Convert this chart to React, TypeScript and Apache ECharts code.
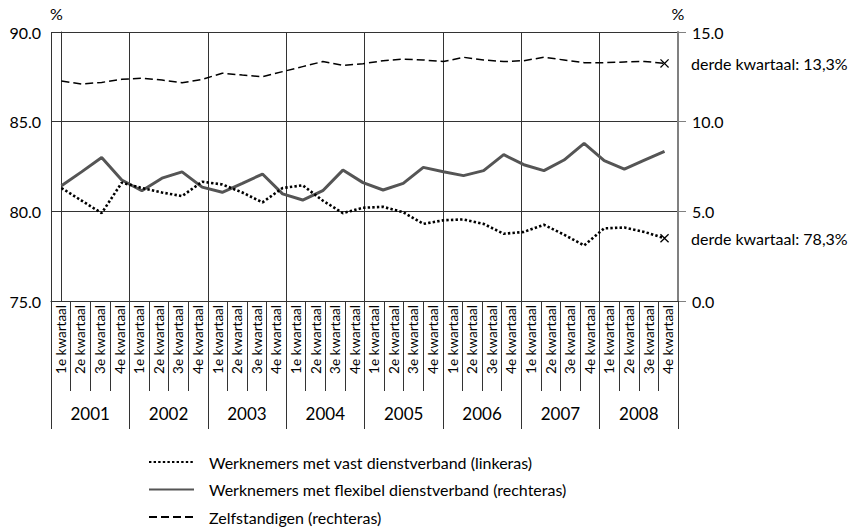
import React, { useEffect, useRef } from "react";
import * as echarts from "echarts";

const years = ["2001", "2002", "2003", "2004", "2005", "2006", "2007", "2008"];
const quarterNames = ["1e kwartaal", "2e kwartaal", "3e kwartaal", "4e kwartaal"];
const quarterLabels = years.flatMap(() => quarterNames);

// Werknemers met vast dienstverband (linkeras), 2001 Q1 .. 2008 Q3
const vast = [
  81.3, 80.6, 79.9, 81.6, 81.3, 81.05, 80.85, 81.65, 81.5, 81.05, 80.5, 81.3,
  81.45, 80.6, 79.9, 80.2, 80.25, 79.95, 79.3, 79.5, 79.55, 79.3, 78.75, 78.85,
  79.25, 78.7, 78.1, 79.05, 79.1, 78.85, 78.5,
];
// Werknemers met flexibel dienstverband (rechteras)
const flex = [
  6.43, 7.2, 8.0, 6.75, 6.15, 6.85, 7.2, 6.35, 6.06, 6.56, 7.08, 5.97, 5.63,
  6.15, 7.3, 6.6, 6.19, 6.56, 7.45, 7.21, 6.99, 7.27, 8.16, 7.6, 7.27, 7.86,
  8.79, 7.83, 7.35, 7.85, 8.35,
];
// Zelfstandigen (rechteras)
const zelf = [
  12.27, 12.1, 12.19, 12.36, 12.42, 12.32, 12.17, 12.36, 12.7, 12.6, 12.51,
  12.79, 13.07, 13.35, 13.14, 13.23, 13.4, 13.49, 13.44, 13.35, 13.59, 13.44,
  13.35, 13.4, 13.59, 13.44, 13.29, 13.29, 13.33, 13.36, 13.25,
];

const seriesNames = [
  "Werknemers met vast dienstverband (linkeras)",
  "Werknemers met flexibel dienstverband (rechteras)",
  "Zelfstandigen (rechteras)",
];
const endLabels = ["derde kwartaal: 78,3%", "derde kwartaal: 13,3%"];

const FONT = "Lato";
const CROSS =
  "path://M0,1 L1,0 L5,4 L9,0 L10,1 L6,5 L10,9 L9,10 L5,6 L1,10 L0,9 L4,5 Z";

function toData(values: number[], endLabel?: string) {
  return values.map((v, i) => {
    if (i === values.length - 1 && endLabel) {
      return {
        value: [i, v],
        symbol: CROSS,
        symbolSize: 9,
        itemStyle: { color: "#000", opacity: 1 },
        label: {
          show: true,
          position: "right",
          distance: 22,
          formatter: endLabel,
          fontFamily: FONT,
          fontSize: 16,
          color: "#000",
        },
      };
    }
    return [i, v];
  });
}

export default function App() {
  const ref = useRef<HTMLDivElement>(null);

  useEffect(() => {
    if (!ref.current) return;
    const chart = echarts.init(ref.current, undefined, { renderer: "svg" });
    const axisColor = "#333";
    chart.setOption({
      animation: false,
      textStyle: { fontFamily: FONT, color: "#000" },
      grid: { left: 51, top: 32, width: 627, height: 269, containLabel: false },
      legend: {
        orient: "vertical",
        left: 148,
        top: 454,
        padding: 0,
        itemWidth: 45,
        itemHeight: 14,
        itemGap: 11.5,
        itemStyle: { opacity: 0 },
        textStyle: {
          fontFamily: FONT,
          fontSize: 16,
          color: "#000",
          padding: [0, 0, 0, 10],
        },
        data: seriesNames,
      },
      xAxis: [
        {
          type: "category",
          position: "bottom",
          data: quarterLabels,
          boundaryGap: true,
          axisLine: { show: true, lineStyle: { color: axisColor, width: 1 } },
          axisTick: {
            show: true,
            interval: 0,
            length: 90,
            lineStyle: { color: axisColor, width: 1 },
          },
          axisLabel: {
            interval: 0,
            rotate: 90,
            margin: 4,
            fontFamily: FONT,
            fontSize: 13.5,
            color: "#000",
          },
          splitLine: { show: false },
        },
        {
          type: "category",
          position: "bottom",
          data: years,
          boundaryGap: true,
          axisLine: { show: false },
          axisTick: {
            show: true,
            interval: 0,
            length: 128,
            lineStyle: { color: axisColor, width: 1 },
          },
          axisLabel: {
            interval: 0,
            margin: 104,
            fontFamily: FONT,
            fontSize: 17,
            color: "#000",
          },
          splitLine: {
            show: true,
            interval: 0,
            lineStyle: { color: axisColor, width: 1 },
          },
        },
        {
          type: "value",
          position: "top",
          show: false,
          min: -0.52,
          max: 30.67,
          splitLine: { show: false },
        },
      ],
      yAxis: [
        {
          type: "value",
          position: "left",
          min: 75,
          max: 90,
          interval: 5,
          name: "%",
          nameLocation: "end",
          nameGap: 11,
          nameTextStyle: {
            fontFamily: FONT,
            fontSize: 16,
            color: "#000",
            align: "center",
            padding: [0, 10, 0, 0],
          },
          axisLine: { show: true, lineStyle: { color: axisColor, width: 1 } },
          axisTick: { show: true, length: 4, lineStyle: { color: axisColor } },
          axisLabel: {
            margin: 10,
            fontFamily: FONT,
            fontSize: 16,
            color: "#000",
            formatter: (v: number) => v.toFixed(1),
          },
          splitLine: { show: true, lineStyle: { color: axisColor, width: 1 } },
        },
        {
          type: "value",
          position: "right",
          min: 0,
          max: 15,
          interval: 5,
          name: "%",
          nameLocation: "end",
          nameGap: 11,
          nameTextStyle: { fontFamily: FONT, fontSize: 16, color: "#000" },
          axisLine: { show: true, lineStyle: { color: "#808080", width: 2 } },
          axisTick: { show: true, length: 8, lineStyle: { color: "#808080", width: 1 } },
          axisLabel: {
            margin: 14,
            fontFamily: FONT,
            fontSize: 16,
            color: "#000",
            formatter: (v: number) => v.toFixed(1),
          },
          splitLine: { show: false },
        },
      ],
      series: [
        {
          name: seriesNames[0],
          type: "line",
          xAxisIndex: 2,
          yAxisIndex: 0,
          symbol: "none",
          showSymbol: true,
          lineStyle: { color: "#000", width: 2.6, type: [2.4, 2.2] },
          itemStyle: { color: "#000" },
          data: toData(vast, endLabels[0]),
          z: 4,
        },
        {
          name: seriesNames[1],
          type: "line",
          xAxisIndex: 2,
          yAxisIndex: 1,
          symbol: "none",
          lineStyle: { color: "#555", width: 3 },
          itemStyle: { color: "#555" },
          data: toData(flex),
          z: 3,
        },
        {
          name: seriesNames[2],
          type: "line",
          xAxisIndex: 2,
          yAxisIndex: 1,
          symbol: "none",
          showSymbol: true,
          lineStyle: { color: "#000", width: 1.5, type: [8, 4] },
          itemStyle: { color: "#000" },
          data: toData(zelf, endLabels[1]),
          z: 3,
        },
      ],
    });
    return () => chart.dispose();
  }, []);

  return (
    <div
      ref={ref}
      style={{ position: "fixed", left: 0, top: 0, width: 866, height: 528, background: "#fff" }}
    />
  );
}
